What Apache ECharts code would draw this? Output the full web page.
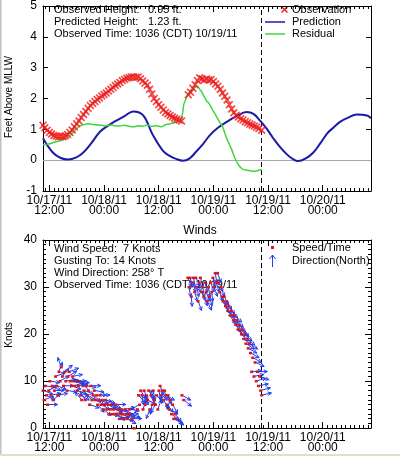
<!DOCTYPE html>
<html><head><meta charset="utf-8">
<script src="https://cdn.jsdelivr.net/npm/echarts@6/dist/echarts.min.js"></script>
<style>html,body{margin:0;padding:0;background:#fff}#c{width:400px;height:456px}</style>
</head><body><div id="c"></div>
<script>
// ---- time axis: hours since 10/17/11 00:00 ----
const xTickValues = [12, 24, 36, 48, 60, 72];
const xTickLabels = ['10/17/11\n12:00', '10/18/11\n00:00', '10/18/11\n12:00', '10/19/11\n00:00', '10/19/11\n12:00', '10/20/11\n00:00'];
const obsTimeMark = 58.6; // 10/19/11 10:36

// ---- water level (feet above MLLW) ----
const predTime = [10.6, 12.8, 14.5, 16.1, 17.8, 19.4, 21.2, 23.1, 25.0, 26.8, 28.6, 30.4, 32.6, 34.7, 37.0, 38.5, 39.8, 41.3, 42.8, 44.3, 45.8, 47.3, 49.0, 50.9, 53.0, 55.3, 56.8, 58.2, 59.7, 61.1, 62.6, 64.2, 65.4, 66.6, 68.2, 69.9, 71.5, 73.0, 74.4, 75.8, 77.6, 79.5, 81.7, 82.6];
const predValue = [0.71, 0.24, 0.07, 0.02, 0.08, 0.24, 0.55, 0.92, 1.13, 1.29, 1.44, 1.58, 1.45, 0.82, 0.29, 0.13, 0.04, -0.02, 0.06, 0.29, 0.54, 0.82, 1.05, 1.24, 1.42, 1.56, 1.5, 1.29, 1.02, 0.72, 0.43, 0.18, 0.04, -0.03, 0.05, 0.24, 0.55, 0.87, 1.06, 1.24, 1.38, 1.48, 1.45, 1.36];

const obsTime = [10.6, 11.0, 11.5, 12.0, 12.5, 13.0, 13.5, 14.0, 14.5, 15.0, 15.5, 16.0, 16.5, 17.0, 17.5, 18.0, 18.5, 19.0, 19.5, 20.0, 20.5, 21.0, 21.5, 22.0, 22.5, 23.0, 23.5, 24.0, 24.5, 25.0, 25.5, 26.0, 26.5, 27.0, 27.5, 28.0, 28.5, 29.0, 29.5, 30.0, 30.5, 31.0, 31.5, 32.0, 32.5, 33.0, 33.5, 34.0, 34.5, 35.0, 35.5, 36.0, 36.5, 37.0, 37.5, 38.0, 38.5, 39.0, 39.5, 40.0, 40.5, 41.0, 42.5, 43.0, 43.5, 44.0, 44.5, 45.0, 45.5, 46.0, 46.5, 47.0, 47.5, 48.0, 48.5, 49.0, 49.5, 50.0, 50.5, 51.0, 51.5, 52.0, 52.5, 53.0, 53.5, 54.0, 54.5, 55.0, 55.5, 56.0, 56.5, 57.0, 57.5, 58.0, 58.6];
const obsValue = [1.13, 1.05, 0.97, 0.9, 0.85, 0.8, 0.78, 0.76, 0.77, 0.76, 0.79, 0.83, 0.9, 0.98, 1.08, 1.18, 1.27, 1.38, 1.48, 1.58, 1.68, 1.77, 1.84, 1.9, 1.97, 2.02, 2.08, 2.13, 2.18, 2.24, 2.3, 2.36, 2.42, 2.47, 2.52, 2.58, 2.62, 2.66, 2.68, 2.7, 2.7, 2.69, 2.7, 2.64, 2.57, 2.5, 2.43, 2.3, 2.15, 2.0, 1.9, 1.8, 1.72, 1.63, 1.55, 1.5, 1.45, 1.4, 1.36, 1.33, 1.3, 1.27, 2.12, 2.2, 2.33, 2.45, 2.58, 2.67, 2.64, 2.6, 2.63, 2.6, 2.62, 2.55, 2.47, 2.4, 2.3, 2.18, 2.07, 1.95, 1.8, 1.66, 1.54, 1.46, 1.4, 1.34, 1.3, 1.25, 1.21, 1.17, 1.14, 1.11, 1.07, 1.03, 0.97];

const resTime = [10.6, 11.5, 12.5, 13.5, 14.5, 15.5, 16.5, 17.5, 18.5, 19.5, 20.5, 21.5, 22.5, 23.5, 24.5, 25.5, 26.5, 27.5, 28.5, 29.5, 30.5, 31.5, 32.5, 33.5, 34.5, 35.5, 36.5, 37.5, 38.5, 39.5, 40.5, 41.0, 41.5, 42.0, 42.5, 43.0, 43.5, 44.0, 44.5, 45.0, 45.5, 46.0, 46.5, 47.0, 47.5, 48.0, 48.5, 49.0, 49.5, 50.0, 50.5, 51.0, 51.5, 52.0, 52.5, 53.0, 53.5, 54.0, 54.5, 55.5, 56.5, 57.5, 58.0, 58.6];
const resValue = [0.5, 0.52, 0.55, 0.6, 0.64, 0.7, 0.8, 0.95, 1.1, 1.15, 1.18, 1.16, 1.14, 1.13, 1.12, 1.14, 1.12, 1.11, 1.13, 1.1, 1.08, 1.12, 1.1, 1.14, 1.1, 1.12, 1.08, 1.15, 1.18, 1.22, 1.27, 1.3, 1.8, 2.0, 2.15, 2.24, 2.3, 2.36, 2.4, 2.3, 2.2, 2.05, 1.92, 1.85, 1.72, 1.58, 1.47, 1.33, 1.2, 1.1, 0.88, 0.68, 0.52, 0.35, 0.15, -0.02, -0.15, -0.24, -0.3, -0.33, -0.36, -0.35, -0.33, -0.3];

// ---- winds: time (h), speed (knots), direction from (deg T) ----
const windTime = [
  10.6, 10.85, 11.1, 11.35, 11.6, 11.85, 12.1, 12.35, 12.6, 12.85, 13.1, 13.35, 13.6, 13.85, 14.1, 14.35, 14.6, 14.85, 15.1, 15.35,
  15.6, 15.85, 16.1, 16.35, 16.6, 16.85, 17.1, 17.35, 17.6, 17.85, 18.1, 18.35, 18.6, 18.85, 19.1, 19.35, 19.6, 19.85, 20.1, 20.35,
  20.6, 20.85, 21.1, 21.35, 21.6, 21.85, 22.1, 22.35, 22.6, 22.85, 23.1, 23.35, 23.6, 23.85, 24.1, 24.35, 24.6, 24.85, 25.1, 25.35,
  25.6, 25.85, 26.1, 26.35, 26.6, 26.85, 27.1, 27.35, 27.6, 27.85, 28.1, 28.35, 28.6, 28.85, 29.1, 29.35, 29.6, 29.85, 30.1, 30.6,
  31.3, 31.55, 31.8, 32.05, 32.3, 32.55, 32.8, 33.05, 33.3, 33.55, 33.8, 34.05, 34.3, 34.55, 34.8, 35.05, 35.3, 35.55, 35.8, 36.05,
  36.3, 36.55, 36.8, 37.05, 37.3, 37.55, 37.8, 38.05, 38.3, 38.55, 38.8, 39.05, 39.3, 39.55, 39.8, 41.1, 41.5,
  42.4, 42.65, 42.9, 43.15, 43.4, 43.65, 43.9, 44.15, 44.4, 44.65, 44.9, 45.15, 45.4, 45.65, 45.9, 46.15, 46.4, 46.65, 46.9, 47.15,
  47.4, 47.65, 47.9, 48.15, 48.4, 48.65, 48.9, 49.15, 49.4, 49.65, 49.9, 50.15, 50.4, 50.65, 50.9, 51.15, 51.4, 51.65, 51.9, 52.15,
  52.4, 52.65, 52.9, 53.15, 53.4, 53.65, 53.9, 54.15, 54.4, 54.65, 54.9, 55.15, 55.4, 55.65, 55.9, 56.15, 56.4, 56.65, 56.9, 57.15,
  57.4, 57.65, 57.9, 58.15, 58.4, 58.6];
const windSpeed = [
  8, 6, 9, 7, 5, 8, 10, 7, 9, 6, 8, 11, 9, 7, 12, 10, 13, 11, 9, 12,
  10, 8, 11, 12, 10, 9, 11, 10, 9, 10, 8, 9, 10, 7, 6, 9, 8, 6, 9, 7,
  8, 5, 9, 6, 7, 8, 6, 7, 5, 6, 7, 5, 6, 4, 5, 6, 4, 5, 3, 4,
  5, 3, 4, 3, 5, 3, 4, 2, 3, 4, 3, 2, 4, 3, 2, 3, 4, 3, 2, 0,
  4, 7, 5, 8, 7, 4, 8, 5, 7, 6, 8, 4, 7, 5, 8, 6, 5, 7, 4, 8,
  9, 7, 8, 6, 8, 7, 5, 7, 4, 6, 3, 5, 2, 3, 2, 7, 6,
  32, 30, 32, 28, 31, 32, 29, 32, 30, 27, 31, 32, 29, 30, 28, 31, 29, 27, 30, 28,
  31, 29, 32, 30, 33, 31, 33, 31, 29, 30, 28, 27, 28, 26, 27, 25, 26, 24, 25, 24,
  23, 24, 22, 23, 21, 22, 21, 20, 21, 19, 20, 18, 19, 17, 18, 16, 12, 15, 11, 14,
  10, 12, 9, 11, 8, 7];
const windDir = [
  290, 250, 280, 300, 270, 240, 280, 260, 300, 230, 270, 250, 290, 260, 200, 240, 160, 220, 270, 230,
  260, 280, 240, 250, 270, 290, 260, 280, 250, 270, 290, 260, 280, 300, 140, 130, 290, 150, 280, 300,
  140, 290, 270, 130, 310, 280, 300, 270, 320, 290, 270, 300, 280, 310, 270, 290, 260, 300, 280, 270,
  290, 260, 280, 300, 270, 310, 280, 260, 290, 300, 270, 280, 260, 290, 300, 270, 280, 290, 270, 0,
  40, 320, 60, 330, 350, 200, 340, 180, 350, 300, 330, 20, 340, 10, 350, 160, 30, 320, 200, 350,
  340, 300, 10, 330, 350, 300, 320, 340, 300, 20, 310, 330, 300, 320, 310, 300, 310,
  340, 350, 345, 355, 340, 350, 345, 335, 350, 340, 355, 345, 335, 350, 340, 345, 340, 335, 350, 345,
  340, 355, 345, 340, 350, 345, 340, 335, 345, 340, 335, 330, 335, 325, 330, 320, 325, 330, 320, 325,
  320, 315, 325, 320, 315, 320, 310, 315, 320, 310, 315, 305, 310, 300, 305, 300, 265, 300, 260, 295,
  255, 270, 260, 290, 255, 258];

const FONT = "'Liberation Sans', Arial, sans-serif";
const X_MIN = 10.6, X_MAX = 82.6;
const hourTicks = [];
for (let h = 11; h <= 82; h++) hourTicks.push(h);

const zip = (a, b) => a.map((v, i) => [v, b[i]]);
const windData = windTime.map((t, i) => [t, windSpeed[i], windDir[i]]);

function xAxesFor(g) {
  const base = { gridIndex: g, type: 'value', min: X_MIN, max: X_MAX, splitLine: { show: false } };
  return [
    Object.assign({}, base, {
      position: 'bottom',
      axisLine: { show: true, onZero: false, lineStyle: { color: '#000', width: 1 } },
      axisTick: { show: true, inside: true, length: 6, customValues: xTickValues, lineStyle: { color: '#000' } },
      axisLabel: { show: true, customValues: xTickValues, formatter: v => xTickLabels[xTickValues.indexOf(v)] || '',
        fontSize: 12, lineHeight: 10, color: '#000', margin: 5, fontFamily: FONT }
    }),
    Object.assign({}, base, {
      position: 'bottom', axisLine: { show: false, onZero: false },
      axisTick: { show: true, inside: true, length: 3, customValues: hourTicks, lineStyle: { color: '#000' } },
      axisLabel: { show: false }
    }),
    Object.assign({}, base, {
      position: 'top',
      axisLine: { show: true, onZero: false, lineStyle: { color: '#000', width: 1 } },
      axisTick: { show: true, inside: true, length: 6, customValues: xTickValues, lineStyle: { color: '#000' } },
      axisLabel: { show: false }
    }),
    Object.assign({}, base, {
      position: 'top', axisLine: { show: false, onZero: false },
      axisTick: { show: true, inside: true, length: 3, customValues: hourTicks, lineStyle: { color: '#000' } },
      axisLabel: { show: false }
    })
  ];
}

const xPath = 'path://M0,1.5L1.5,0L5,3.5L8.5,0L10,1.5L6.5,5L10,8.5L8.5,10L5,6.5L1.5,10L0,8.5L3.5,5Z';
const WIND_BLUE = '#1f3cf0', WIND_RED = '#d8141e';

const option = {
  animation: false,
  backgroundColor: '#fff',
  textStyle: { fontFamily: FONT },
  grid: [
    { left: 43, right: 29, top: 2, height: 189 },
    { left: 43, right: 29, top: 240, height: 188 }
  ],
  xAxis: xAxesFor(0).concat(xAxesFor(1)),
  yAxis: [
    { gridIndex: 0, type: 'value', min: -1, max: 5, interval: 1, position: 'left',
      axisLine: { show: true, lineStyle: { color: '#000' } },
      axisTick: { show: true, inside: true, length: 5, lineStyle: { color: '#000' } },
      axisLabel: { fontSize: 12, color: '#000', margin: 6, fontFamily: FONT },
      splitLine: { show: false } },
    { gridIndex: 0, type: 'value', min: -1, max: 5, interval: 1, position: 'right',
      axisLine: { show: true, lineStyle: { color: '#000' } },
      axisTick: { show: true, inside: true, length: 5, lineStyle: { color: '#000' } },
      axisLabel: { show: false }, splitLine: { show: false } },
    { gridIndex: 1, type: 'value', min: 0, max: 40, interval: 10, position: 'left',
      axisLine: { show: true, lineStyle: { color: '#000' } },
      axisTick: { show: true, inside: true, length: 6, lineStyle: { color: '#000' } },
      minorTick: { show: true, splitNumber: 10, length: 3, lineStyle: { color: '#000' } },
      axisLabel: { fontSize: 12, color: '#000', margin: 6, fontFamily: FONT },
      splitLine: { show: false } },
    { gridIndex: 1, type: 'value', min: 0, max: 40, interval: 10, position: 'right',
      axisLine: { show: true, lineStyle: { color: '#000' } },
      axisTick: { show: true, inside: true, length: 6, lineStyle: { color: '#000' } },
      minorTick: { show: true, splitNumber: 10, length: 3, lineStyle: { color: '#000' } },
      axisLabel: { show: false }, splitLine: { show: false } }
  ],
  series: [
    { name: 'Prediction', type: 'line', xAxisIndex: 0, yAxisIndex: 0, data: zip(predTime, predValue),
      smooth: 0.4, showSymbol: false, symbol: 'none', z: 3,
      lineStyle: { color: '#1a1aa8', width: 2 },
      markLine: { silent: true, symbol: 'none', label: { show: false }, z: 1,
        data: [
          { yAxis: 0, lineStyle: { color: '#a8a8a8', width: 1, type: 'solid' } },
          { xAxis: obsTimeMark, lineStyle: { color: '#000', width: 1, type: [5, 3] } }
        ] } },
    { name: 'Residual', type: 'line', xAxisIndex: 0, yAxisIndex: 0, data: zip(resTime, resValue),
      smooth: 0.2, showSymbol: false, symbol: 'none', z: 4,
      lineStyle: { color: '#3ed63a', width: 1.5 } },
    { name: 'Observation', type: 'scatter', xAxisIndex: 0, yAxisIndex: 0, data: zip(obsTime, obsValue),
      symbol: xPath, symbolSize: 8, z: 5,
      itemStyle: { color: '#ee1c1c' } },
    { name: 'Winds', type: 'custom', xAxisIndex: 4, yAxisIndex: 2, data: windData, z: 5,
      renderItem: function (params, api) {
        const p = api.coord([api.value(0), api.value(1)]);
        const spd = api.value(1);
        const children = [];
        if (spd > 0) {
          const to = (api.value(2) + 180) * Math.PI / 180;
          const L = 10;
          const ex = p[0] + L * Math.sin(to), ey = p[1] - L * Math.cos(to);
          const back = to + Math.PI, h = 4, a = 0.45;
          const h1 = [ex + h * Math.sin(back - a), ey - h * Math.cos(back - a)];
          const h2 = [ex + h * Math.sin(back + a), ey - h * Math.cos(back + a)];
          children.push({ type: 'polyline', shape: { points: [[p[0], p[1]], [ex, ey]] }, style: { stroke: WIND_BLUE, lineWidth: 1, fill: null } });
          children.push({ type: 'polyline', shape: { points: [h1, [ex, ey], h2] }, style: { stroke: WIND_BLUE, lineWidth: 1, fill: null } });
        }
        children.push({ type: 'rect', shape: { x: p[0] - 1.5, y: p[1] - 1, width: 3, height: 2.5 }, style: { fill: WIND_RED } });
        return { type: 'group', children: children };
      },
      markLine: { silent: true, symbol: 'none', label: { show: false },
        data: [{ xAxis: obsTimeMark, lineStyle: { color: '#000', width: 1, type: [5, 3] } }] } }
  ],
  graphic: [
    { type: 'rect', left: 0, top: 0, shape: { width: 1.5, height: 456 }, style: { fill: '#c0c0c0' }, z: 0 },
    { type: 'rect', left: 0, top: 454, shape: { width: 400, height: 2 }, style: { fill: '#e6dcc8' }, z: 0 },
    { type: 'text', x: 9, y: 97, rotation: Math.PI / 2, style: { text: 'Feet Above MLLW', font: '10px ' + FONT, fill: '#000', align: 'center', verticalAlign: 'middle' } },
    { type: 'text', x: 9, y: 335, rotation: Math.PI / 2, style: { text: 'Knots', font: '10px ' + FONT, fill: '#000', align: 'center', verticalAlign: 'middle' } },
    { type: 'text', x: 200, y: 231, style: { text: 'Winds', font: '12px ' + FONT, fill: '#000', align: 'center', verticalAlign: 'middle' } },
    { type: 'text', x: 54, y: 10, style: { text: 'Observed Height:', font: '11px ' + FONT, fill: '#000', verticalAlign: 'middle' } },
    { type: 'text', x: 148, y: 10, style: { text: '0.95 ft.', font: '11px ' + FONT, fill: '#000', verticalAlign: 'middle' } },
    { type: 'text', x: 54, y: 22, style: { text: 'Predicted Height:', font: '11px ' + FONT, fill: '#000', verticalAlign: 'middle' } },
    { type: 'text', x: 148, y: 22, style: { text: '1.23 ft.', font: '11px ' + FONT, fill: '#000', verticalAlign: 'middle' } },
    { type: 'text', x: 54, y: 34, style: { text: 'Observed Time: 1036 (CDT) 10/19/11', font: '11px ' + FONT, fill: '#000', verticalAlign: 'middle' } },
    { type: 'polygon', shape: { points: [[281, 7], [282, 6], [284.5, 8.5], [287, 6], [288, 7], [285.5, 9.5], [288, 12], [287, 13], [284.5, 10.5], [282, 13], [281, 12], [283.5, 9.5]] }, style: { fill: '#ee1c1c' } },
    { type: 'text', x: 292, y: 10, style: { text: 'Observation', font: '11px ' + FONT, fill: '#000', verticalAlign: 'middle' } },
    { type: 'line', shape: { x1: 265, y1: 22, x2: 285, y2: 22 }, style: { stroke: '#1a1aa8', lineWidth: 1.5 } },
    { type: 'text', x: 292, y: 22, style: { text: 'Prediction', font: '11px ' + FONT, fill: '#000', verticalAlign: 'middle' } },
    { type: 'line', shape: { x1: 265, y1: 34, x2: 285, y2: 34 }, style: { stroke: '#3ed63a', lineWidth: 1.5 } },
    { type: 'text', x: 292, y: 34, style: { text: 'Residual', font: '11px ' + FONT, fill: '#000', verticalAlign: 'middle' } },
    { type: 'text', x: 54, y: 249, z: 1, style: { text: 'Wind Speed:  7 Knots', font: '11px ' + FONT, fill: '#000', verticalAlign: 'middle' } },
    { type: 'text', x: 54, y: 261, z: 1, style: { text: 'Gusting To: 14 Knots', font: '11px ' + FONT, fill: '#000', verticalAlign: 'middle' } },
    { type: 'text', x: 54, y: 273, z: 1, style: { text: 'Wind Direction: 258\u00b0 T', font: '11px ' + FONT, fill: '#000', verticalAlign: 'middle' } },
    { type: 'text', x: 54, y: 285, z: 1, style: { text: 'Observed Time: 1036 (CDT) 10/19/11', font: '11px ' + FONT, fill: '#000', verticalAlign: 'middle' } },
    { type: 'rect', shape: { x: 271, y: 246, width: 3, height: 3 }, style: { fill: WIND_RED } },
    { type: 'text', x: 292, y: 248, style: { text: 'Speed/Time', font: '11px ' + FONT, fill: '#000', verticalAlign: 'middle' } },
    { type: 'polyline', shape: { points: [[272.5, 267], [272.5, 255]] }, style: { stroke: WIND_BLUE, lineWidth: 1, fill: null } },
    { type: 'polyline', shape: { points: [[269.5, 259], [272.5, 255], [275.5, 259]] }, style: { stroke: WIND_BLUE, lineWidth: 1, fill: null } },
    { type: 'text', x: 292, y: 261, style: { text: 'Direction(North)', font: '11px ' + FONT, fill: '#000', verticalAlign: 'middle' } }
  ]
};

const chart = echarts.init(document.getElementById('c'), null, { renderer: 'canvas' });
chart.setOption(option);
</script></body></html>
